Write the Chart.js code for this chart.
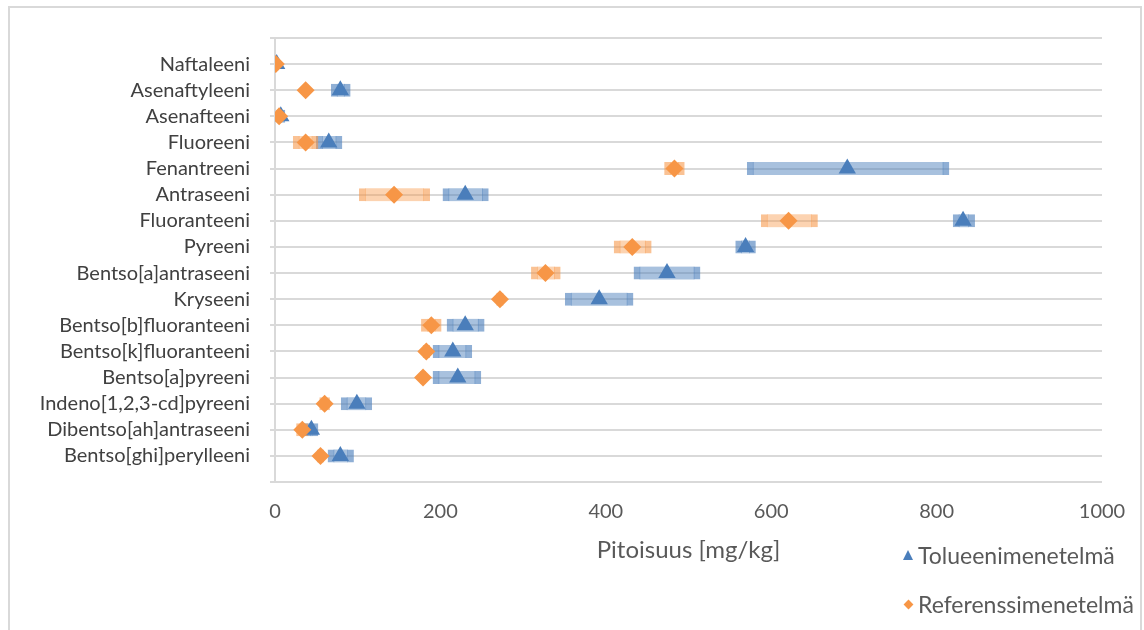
<!DOCTYPE html>
<html lang="fi">
<head>
    <meta charset="UTF-8">
    <meta name="viewport" content="width=device-width, initial-scale=1.0">
    <title>PAH-yhdisteiden pitoisuudet</title>
    <script src="https://cdn.jsdelivr.net/npm/chart.js"></script>
    <style>
        body {
            margin: 0;
            background-color: #fff;
            font-family: Lato, sans-serif;
        }

        #wrap {
            position: relative;
            width: 1144px;
            height: 630px;
            overflow: hidden;
        }

        #frame {
            position: absolute;
            left: 8px;
            top: 6px;
            width: 1134px;
            height: 660px;
            border: 2px solid #d9d9d9;
            box-sizing: border-box;
        }

        #chart {
            position: absolute;
            left: 0;
            top: 0;
        }

        #legend {
            position: absolute;
            left: 903px;
            top: 540px;
            color: #595959;
            font-size: 23px;
        }

        .item {
            height: 30px;
            line-height: 30px;
            margin-bottom: 19px;
            display: flex;
            align-items: center;
        }

        .tri {
            width: 0;
            height: 0;
            border-left: 5px solid transparent;
            border-right: 5px solid transparent;
            border-bottom: 10px solid #4a7ebb;
            margin-right: 5px;
        }

        .dia {
            width: 7px;
            height: 7px;
            background-color: #f79646;
            transform: rotate(45deg);
            margin: 0 6px 0 2px;
        }
    </style>
</head>
<body>
<div id="wrap">
    <div id="frame"></div>
    <canvas id="chart" width="1144" height="630"></canvas>
    <div id="legend">
        <div class="item"><span class="tri"></span>Tolueenimenetelmä</div>
        <div class="item"><span class="dia"></span>Referenssimenetelmä</div>
    </div>
</div>

<script>
    // yhdisteet ylhäältä alas
    const yhdisteet = ['Naftaleeni', 'Asenaftyleeni', 'Asenafteeni', 'Fluoreeni', 'Fenantreeni', 'Antraseeni',
        'Fluoranteeni', 'Pyreeni', 'Bentso[a]antraseeni', 'Kryseeni', 'Bentso[b]fluoranteeni',
        'Bentso[k]fluoranteeni', 'Bentso[a]pyreeni', 'Indeno[1,2,3-cd]pyreeni', 'Dibentso[ah]antraseeni',
        'Bentso[ghi]perylleeni'];

    const tolueeni    = [2, 79, 7, 65, 692, 230, 832, 569, 474, 392, 230, 215, 221, 99, 44, 79];
    const tolueeniMin = [0, 68, 3, 50, 571, 203, 820, 557, 434, 351, 208, 191, 191, 80, 36, 64];
    const tolueeniMax = [4, 91, 12, 81, 815, 258, 846, 581, 514, 433, 253, 238, 249, 117, 52, 95];

    const referenssi    = [1, 37, 5, 37, 483, 144, 621, 432, 327, 272, 189, 183, 179, 60, 33, 55];
    const referenssiMin = [0, 34, 2, 22, 471, 102, 588, 410, 310, 268, 177, 179, 176, 54, 26, 51];
    const referenssiMax = [2, 40, 8, 52, 495, 187, 656, 455, 345, 276, 201, 187, 182, 66, 40, 59];

    const xTicks = [0, 200, 400, 600, 800, 1000];

    const n = yhdisteet.length;
    const rivi = i => n - i; // Naftaleeni ylimpänä

    function vaihteluvali(min, max) {
        return yhdisteet.map((_, i) => ({ y: rivi(i), x: [min[i], max[i]] }));
    }

    function pisteet(arvot) {
        return yhdisteet.map((_, i) => ({ x: arvot[i], y: rivi(i) }));
    }

    function piirra() {
        const ctx = document.getElementById('chart').getContext('2d');
        new Chart(ctx, {
            type: 'bar',
            data: {
                datasets: [
                    {
                        type: 'scatter',
                        label: 'Referenssimenetelmä',
                        data: pisteet(referenssi),
                        pointStyle: 'rectRot',
                        pointRadius: 9,
                        backgroundColor: '#f79646',
                        borderColor: '#f79646',
                        borderWidth: 0,
                        order: 0
                    },
                    {
                        type: 'scatter',
                        label: 'Tolueenimenetelmä',
                        data: pisteet(tolueeni),
                        pointStyle: 'triangle',
                        pointRadius: 10,
                        backgroundColor: '#4a7ebb',
                        borderColor: '#4a7ebb',
                        borderWidth: 0,
                        order: 1
                    },
                    {
                        label: 'Referenssi vaihteluväli',
                        data: vaihteluvali(referenssiMin, referenssiMax),
                        backgroundColor: 'rgba(247, 150, 70, 0.42)',
                        borderColor: 'rgba(247, 150, 70, 0.58)',
                        borderWidth: { left: 6, right: 6, top: 0, bottom: 0 },
                        borderSkipped: false,
                        barThickness: 13,
                        grouped: false,
                        order: 2
                    },
                    {
                        label: 'Tolueeni vaihteluväli',
                        data: vaihteluvali(tolueeniMin, tolueeniMax),
                        backgroundColor: 'rgba(74, 126, 187, 0.48)',
                        borderColor: 'rgba(74, 126, 187, 0.62)',
                        borderWidth: { left: 6, right: 6, top: 0, bottom: 0 },
                        borderSkipped: false,
                        barThickness: 13,
                        grouped: false,
                        order: 3
                    }
                ]
            },
            options: {
                indexAxis: 'y',
                responsive: false,
                animation: false,
                layout: {
                    padding: { left: 0, right: 42, top: 38, bottom: 48 }
                },
                plugins: {
                    legend: { display: false },
                    tooltip: { enabled: false }
                },
                scales: {
                    x: {
                        type: 'linear',
                        min: 0,
                        max: 1000,
                        afterBuildTicks: s => { s.ticks = xTicks.map(v => ({ value: v })); },
                        ticks: {
                            color: '#595959',
                            font: { family: 'Lato', size: 20 },
                            padding: 18,
                            callback: v => String(v)
                        },
                        grid: { display: false, drawTicks: false },
                        border: { display: false },
                        title: {
                            display: true,
                            text: 'Pitoisuus [mg/kg]',
                            color: '#595959',
                            font: { family: 'Lato', size: 24 },
                            padding: { top: 0, bottom: 17 }
                        },
                        afterFit: s => { s.height = 100; }
                    },
                    y: {
                        type: 'linear',
                        min: 0,
                        max: n + 1,
                        offset: false,
                        afterBuildTicks: s => {
                            s.ticks = Array.from({ length: n + 2 }, (_, v) => ({ value: v }));
                        },
                        ticks: {
                            autoSkip: false,
                            color: '#404040',
                            font: { family: 'Lato', size: 20 },
                            padding: 20,
                            callback: v => (v >= 1 && v <= n) ? yhdisteet[n - v] : ''
                        },
                        grid: { color: '#d9d9d9', lineWidth: 2, tickLength: 5, offset: false },
                        border: { color: '#d9d9d9', width: 2 },
                        afterFit: s => { s.width = 275; }
                    }
                }
            }
        });
    }

    document.fonts.load('20px Lato').then(piirra, piirra);
</script>
</body>
</html>
